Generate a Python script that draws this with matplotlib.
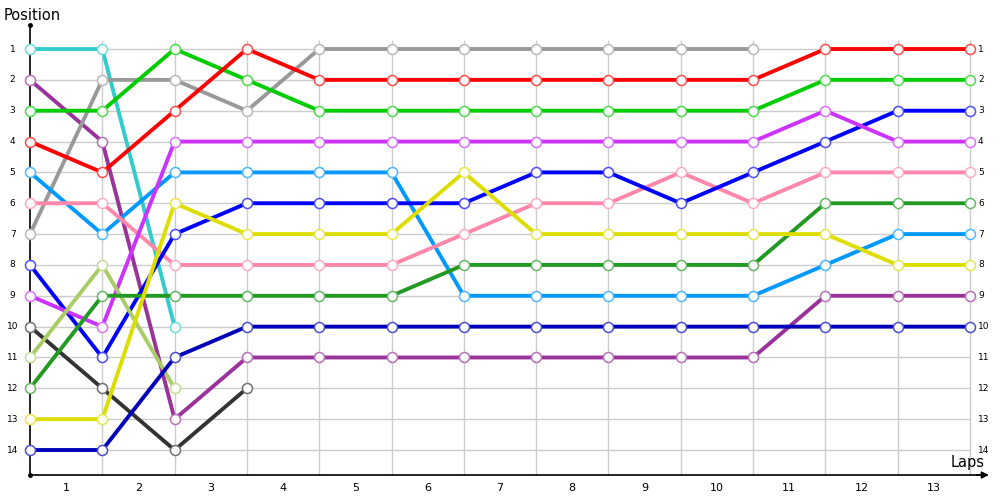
import matplotlib
matplotlib.use("Agg")
import matplotlib.pyplot as plt
import numpy as np

laps = list(range(1, 14))
positions = list(range(1, 15))

# position at each lap boundary (index 0 = start)
cyan = [1, 1, 10]
purple = [2, 4, 13, 11, 11, 11, 11, 11, 11, 11, 11, 9, 9, 9]
grey = [7, 2, 2, 3, 1, 1, 1, 1, 1, 1, 1]
green = [3, 3, 1, 2, 3, 3, 3, 3, 3, 3, 3, 2, 2, 2]
red = [4, 5, 3, 1, 2, 2, 2, 2, 2, 2, 2, 1, 1, 1]
lightblue = [5, 7, 5, 5, 5, 5, 9, 9, 9, 9, 9, 8, 7, 7]
pink = [6, 6, 8, 8, 8, 8, 7, 6, 6, 5, 6, 5, 5, 5]
blue = [8, 11, 7, 6, 6, 6, 6, 5, 5, 6, 5, 4, 3, 3]
magenta = [9, 10, 4, 4, 4, 4, 4, 4, 4, 4, 4, 3, 4, 4]
black = [10, 12, 14, 12]
olive = [11, 8, 12]
forest = [12, 9, 9, 9, 9, 9, 8, 8, 8, 8, 8, 6, 6, 6]
yellow = [13, 13, 6, 7, 7, 7, 5, 7, 7, 7, 7, 7, 8, 8]
navy = [14, 14, 11, 10, 10, 10, 10, 10, 10, 10, 10, 10, 10, 10]

series = [
    (cyan, "#33cccc"), (purple, "#993399"), (grey, "#999999"),
    (green, "#00cc00"), (red, "#ff0000"), (lightblue, "#0099ff"),
    (pink, "#ff88aa"), (blue, "#0000ff"), (magenta, "#cc33ff"),
    (black, "#333333"), (olive, "#aacc66"), (forest, "#229922"),
    (yellow, "#dddd00"), (navy, "#0000bb"),
]

fig = plt.figure(figsize=(10, 5), dpi=100)
ax = fig.add_axes([0, 0, 1, 1])
ax.set_xlim(-0.415, 13.415)
ax.set_ylim(15.62, -0.589)
ax.axis("off")

# grid
ax.hlines(positions, 0, 13, color="#cccccc", lw=1, zorder=1)
ax.vlines(range(1, 14), 0.7, 14.81, color="#cccccc", lw=1, zorder=1)

# axes
ax.plot([0, 0], [0.22, 14.81], color="black", lw=1.2, zorder=2)
ax.plot([0, 13.2], [14.81, 14.81], color="black", lw=1.2, zorder=2)
ax.plot([0, 0], [0.22, 14.81], "o", color="black", ms=2.5, zorder=2)
ax.annotate("", xy=(13.3, 14.81), xytext=(13.05, 14.81),
            arrowprops=dict(arrowstyle="-|>", color="black", lw=1.2,
                            mutation_scale=10), zorder=2)

def lighten(c, f=0.3):
    rgb = np.array(matplotlib.colors.to_rgb(c))
    return tuple(rgb + (1 - rgb) * f)

for vals, col in series:
    xs = list(range(len(vals)))
    ax.plot(xs, vals, color=col, lw=2.8, zorder=3, solid_capstyle="butt")
    ax.plot(xs, vals, "o", ms=7.2, mfc="white", mec=lighten(col), mew=1.1,
            zorder=4)

for p in positions:
    ax.text(-0.24, p, str(p), ha="center", va="center", fontsize=6.5)
    ax.text(13.11, p, str(p), ha="left", va="center", fontsize=6.5)

for lap in laps:
    ax.text(lap - 0.5, 15.23, str(lap), ha="center", va="center", fontsize=8)

ax.text(-0.36, -0.08, "Position", ha="left", va="center", fontsize=10.5)
ax.text(13.2, 14.4, "Laps", ha="right", va="center", fontsize=10.5)

fig.savefig("out.png", dpi=100)
